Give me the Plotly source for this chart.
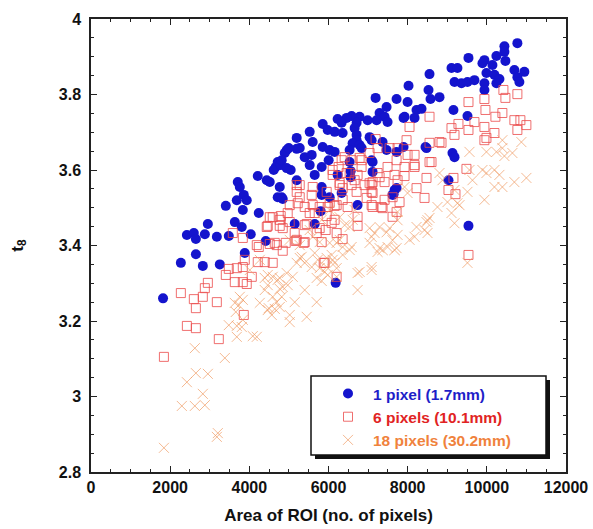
import plotly.graph_objects as go

# ---- data ----
blue_x = [1820, 2270, 2422, 2598, 2649, 2876, 3179, 3481, 2952, 3633, 3809, 4036, 3885, 4415, 5146, 5651, 6181,
          2650, 2825, 3254, 5197, 4944, 4894, 5197, 4717, 4667, 4616, 4793, 5045, 4213, 4440, 4516, 5197, 3708,
          3759, 3860, 3683, 3935, 3835, 3406, 4238, 4717, 4844, 4768, 8022, 7190, 7720, 7997, 8224, 7467, 7291,
          7417, 7215, 7492, 7896, 8174, 6988, 6786, 6584, 6458, 6710, 6231, 6332, 5853, 5979, 6155, 6357, 6660,
          6710, 6710, 6609, 6786, 7038, 7089, 6534, 6837, 7366, 7467, 7720, 7896, 5525, 5273, 5601, 5853, 6029,
          6155, 4995, 5399, 5575, 5525, 4818, 4944, 5651, 6004, 5828, 6534, 7114, 6559, 6231, 7114, 5828, 5828,
          6029, 6332, 7669, 7618, 6735, 4818, 10772, 10444, 10444, 10242, 9536, 9939, 9889, 10141, 10469, 9990,
          10192, 10318, 10242, 10696, 10948, 10772, 10822, 9107, 9258, 8552, 9183, 9359, 9511, 9687, 9939, 9939,
          8527, 8577, 8804, 8350, 7921, 9157, 9511, 9132, 9183, 8476, 9536, 9031, 8451, 7720, 7644, 5802, 7089,
          6559]
blue_y = [3.260, 3.354, 3.428, 3.433, 3.417, 3.430, 3.423, 3.425, 3.457, 3.462, 3.449, 3.430, 3.380, 3.412, 3.457,
          3.457, 3.301, 3.377, 3.346, 3.350, 3.685, 3.653, 3.645, 3.656, 3.621, 3.608, 3.600, 3.613, 3.600, 3.584,
          3.573, 3.568, 3.573, 3.568, 3.555, 3.534, 3.520, 3.520, 3.494, 3.505, 3.486, 3.528, 3.523, 3.555, 3.823,
          3.791, 3.788, 3.780, 3.759, 3.767, 3.751, 3.741, 3.732, 3.727, 3.738, 3.738, 3.732, 3.741, 3.743, 3.738,
          3.725, 3.735, 3.725, 3.722, 3.706, 3.701, 3.698, 3.711, 3.693, 3.679, 3.671, 3.666, 3.687, 3.679, 3.653,
          3.658, 3.674, 3.653, 3.648, 3.661, 3.701, 3.658, 3.674, 3.661, 3.653, 3.648, 3.658, 3.634, 3.640, 3.613,
          3.626, 3.605, 3.587, 3.626, 3.608, 3.621, 3.621, 3.581, 3.587, 3.595, 3.555, 3.534, 3.528, 3.539, 3.547,
          3.534, 3.507, 3.528, 3.936, 3.928, 3.913, 3.902, 3.897, 3.891, 3.883, 3.878, 3.889, 3.857, 3.852, 3.841,
          3.830, 3.865, 3.860, 3.846, 3.833, 3.870, 3.870, 3.854, 3.833, 3.830, 3.833, 3.838, 3.830, 3.812, 3.812,
          3.788, 3.793, 3.762, 3.741, 3.759, 3.743, 3.645, 3.634, 3.658, 3.452, 3.573, 3.661, 3.552, 3.536, 3.491,
          3.626, 3.597]

red_x = [1842, 2270, 2422, 2649, 2598, 2649, 2825, 2876, 2952, 3179, 3229, 3406, 3481, 3683, 3633, 3835, 3935,
         4062, 3835, 3885, 3860, 4213, 4390, 4591, 4238, 4516, 4692, 4844, 4919, 5172, 5373, 3835, 3582, 4465,
         4768, 5449, 5701, 5928, 5828, 5903, 6206, 4591, 4793, 4969, 5222, 5399, 5651, 5777, 5954, 6155, 5979,
         6155, 9536, 8855, 9939, 9485, 9157, 9031, 9208, 8476, 8224, 8426, 8174, 7921, 7921, 8552, 7997, 7720,
         7492, 7669, 7291, 7114, 7089, 7417, 7795, 7720, 7618, 6786, 7038, 6408, 6256, 6836, 6735, 6534, 6105,
         6281, 6660, 7038, 6710, 7114, 6206, 6483, 7417, 7341, 6735, 6735, 6206, 6357, 7972, 10419, 10469, 10772,
         9536, 9939, 9965, 10393, 10217, 10696, 10848, 10999, 10772, 9687, 9283, 9107, 9536, 9183, 9939, 9990,
         10192, 8552, 8047, 8552, 8804, 8174, 8174, 8602, 7190, 7240, 7543, 7745, 6837, 6584, 6332, 6105, 6458,
         6282, 6584, 6912, 5601, 5273, 5020, 5273, 5576, 5954, 6030, 6358, 6964, 7115, 5601, 4516, 4768, 4440,
         4844, 5020, 5146, 5197, 4642, 4188, 5197, 5197, 5399, 5399, 5879, 6080, 7366, 7089, 5777, 5525, 7619,
         7745, 7240, 7089, 6357]
red_y = [3.105, 3.274, 3.187, 3.181, 3.258, 3.234, 3.264, 3.287, 3.301, 3.250, 3.152, 3.322, 3.338, 3.340, 3.303,
         3.303, 3.298, 3.317, 3.343, 3.362, 3.216, 3.356, 3.356, 3.354, 3.396, 3.404, 3.401, 3.386, 3.407, 3.412,
         3.407, 3.420, 3.433, 3.452, 3.452, 3.457, 3.433, 3.441, 3.409, 3.354, 3.317, 3.475, 3.478, 3.486, 3.512,
         3.502, 3.486, 3.446, 3.478, 3.505, 3.502, 3.468, 3.375, 3.672, 3.679, 3.603, 3.579, 3.547, 3.536, 3.579,
         3.552, 3.526, 3.608, 3.584, 3.608, 3.621, 3.640, 3.626, 3.608, 3.587, 3.581, 3.568, 3.542, 3.568, 3.515,
         3.489, 3.476, 3.632, 3.645, 3.634, 3.608, 3.608, 3.587, 3.592, 3.587, 3.560, 3.573, 3.565, 3.542, 3.539,
         3.507, 3.502, 3.521, 3.502, 3.476, 3.452, 3.433, 3.417, 3.679, 3.812, 3.791, 3.801, 3.780, 3.788, 3.759,
         3.751, 3.741, 3.732, 3.732, 3.719, 3.706, 3.727, 3.722, 3.711, 3.706, 3.693, 3.714, 3.685, 3.698, 3.741,
         3.714, 3.672, 3.674, 3.640, 3.613, 3.621, 3.682, 3.658, 3.658, 3.658, 3.626, 3.626, 3.626, 3.600, 3.592,
         3.566, 3.560, 3.560, 3.555, 3.560, 3.507, 3.528, 3.534, 3.542, 3.513, 3.521, 3.526, 3.502, 3.507, 3.475,
         3.468, 3.449, 3.446, 3.462, 3.433, 3.415, 3.407, 3.401, 3.560, 3.542, 3.454, 3.409, 3.354, 3.460, 3.499,
         3.507, 3.502, 3.486, 3.528, 3.573, 3.592, 3.560, 3.552]

orange_x = [1842, 2295, 2623, 2876, 2825, 2422, 2649, 2952, 2623, 3381, 3204, 3179, 3683, 3481, 3683, 3809, 3835,
            3658, 3734, 3835, 3759, 3633, 4087, 4188, 4264, 4390, 4566, 4490, 4642, 4692, 4818, 5020, 5020, 5146,
            5399, 5449, 5701, 4465, 4591, 4768, 4944, 5096, 5273, 5576, 5727, 5903, 5828, 4844, 4390, 4465, 4717,
            4768, 4591, 4970, 4768, 4465, 5197, 5399, 5323, 5651, 5777, 5979, 6206, 6206, 6029, 5777, 5601, 5954,
            6105, 5701, 5954, 6206, 6080, 6357, 6584, 6357, 6735, 6735, 7089, 7038, 7240, 7366, 7492, 7669, 7618,
            7467, 7164, 7291, 7038, 7745, 8174, 8426, 8476, 8224, 9183, 9107, 9309, 9510, 6534, 6610, 6282, 6029,
            10393, 10873, 10646, 10444, 9990, 9889, 10192, 10192, 10393, 10696, 10999, 9939, 9637, 9510, 9258,
            8552, 8804, 8880, 9006, 7921, 7997, 7745, 7745, 7543, 7291, 7089, 7089, 6786, 6534, 6282, 6155, 8047,
            10393, 10242, 9561, 9561, 9990, 10318, 9183, 8753, 8501, 8501, 7719, 5525, 6408, 6660, 5020, 5273,
            4264, 4011, 5828]
orange_y = [2.864, 2.975, 2.975, 2.977, 3.007, 3.038, 3.062, 3.060, 3.128, 3.102, 2.903, 2.893, 3.158, 3.189, 3.187,
            3.184, 3.203, 3.224, 3.242, 3.256, 3.264, 3.248, 3.160, 3.158, 3.248, 3.282, 3.216, 3.234, 3.232, 3.250,
            3.264, 3.197, 3.216, 3.250, 3.282, 3.211, 3.250, 3.322, 3.317, 3.314, 3.327, 3.317, 3.367, 3.343, 3.362,
            3.330, 3.306, 3.290, 3.314, 3.295, 3.309, 3.285, 3.264, 3.295, 3.237, 3.229, 3.354, 3.354, 3.370, 3.380,
            3.340, 3.322, 3.317, 3.407, 3.407, 3.409, 3.423, 3.367, 3.362, 3.314, 3.343, 3.340, 3.375, 3.375, 3.396,
            3.396, 3.327, 3.282, 3.335, 3.407, 3.383, 3.388, 3.396, 3.388, 3.414, 3.435, 3.433, 3.449, 3.446, 3.428,
            3.423, 3.441, 3.462, 3.449, 3.459, 3.486, 3.507, 3.354, 3.449, 3.468, 3.475, 3.494, 3.679, 3.674, 3.645,
            3.637, 3.648, 3.600, 3.600, 3.555, 3.555, 3.568, 3.579, 3.521, 3.573, 3.542, 3.512, 3.473, 3.592, 3.573,
            3.515, 3.555, 3.539, 3.489, 3.467, 3.446, 3.393, 3.423, 3.343, 3.330, 3.388, 3.415, 3.354, 3.415, 3.658,
            3.648, 3.648, 3.600, 3.592, 3.587, 3.547, 3.502, 3.467, 3.433, 3.393, 3.441, 3.454, 3.494, 3.415, 3.401,
            3.362, 3.335, 3.468]

series_names = ["1 pixel (1.7mm)", "6 pixels (10.1mm)", "18 pixels (30.2mm)"]
series_colors = ["rgb(20,20,205)", "rgb(235,75,75)", "rgb(240,155,100)"]
legend_text_colors = ["rgb(30,30,200)", "rgb(225,35,35)", "rgb(240,130,60)"]

FONT = "Liberation Sans, Arial, sans-serif"

fig = go.Figure()
fig.add_trace(go.Scatter(
    x=blue_x, y=blue_y, mode="markers",
    name=f"<b><span style='color:{legend_text_colors[0]}'>{series_names[0]}</span></b>",
    marker=dict(symbol="circle", size=10, color=series_colors[0], line=dict(width=0)),
))
fig.add_trace(go.Scatter(
    x=red_x, y=red_y, mode="markers",
    name=f"<b><span style='color:{legend_text_colors[1]}'>{series_names[1]}</span></b>",
    marker=dict(symbol="square-open", size=9, color=series_colors[1], opacity=0.8,
                line=dict(width=1, color=series_colors[1])),
))
fig.add_trace(go.Scatter(
    x=orange_x, y=orange_y, mode="markers",
    name=f"<b><span style='color:{legend_text_colors[2]}'>{series_names[2]}</span></b>",
    marker=dict(symbol="x-thin-open", size=10, color=series_colors[2], opacity=0.7,
                line=dict(width=1, color=series_colors[2])),
))

L, R, T, B = 91, 27, 19, 57
W, H = 593, 529
pw, ph = W - L - R, H - T - B

def px2paper_x(p):
    return (p - L) / pw

def py2paper_y(p):
    return (H - B - p) / ph

axis_common = dict(
    showline=True, linecolor="#222", linewidth=1.5, mirror="allticks",
    ticks="inside", ticklen=6, tickwidth=1.2, tickcolor="#222",
    showgrid=False, zeroline=False,
    tickfont=dict(family=FONT, size=16, color="#111", weight="bold"),
)

fig.update_xaxes(
    range=[0, 12000], dtick=2000, tickformat="d",
    minor=dict(dtick=500, ticks="inside", ticklen=3, tickwidth=1, tickcolor="#222", showgrid=False),
    title=dict(text="<b>Area of ROI (no. of pixels)</b>", font=dict(family=FONT, size=17, color="#111"), standoff=14),
    **axis_common,
)
fig.update_yaxes(
    range=[2.8, 4.0], dtick=0.2,
    minor=dict(dtick=0.05, ticks="inside", ticklen=3, tickwidth=1, tickcolor="#222", showgrid=False),
    ticklabelstandoff=5,
    title=dict(text="<b>t<sub>8</sub></b>", font=dict(family=FONT, size=17, color="#111"), standoff=31),
    **axis_common,
)

# legend frame with drop shadow
bx0, bx1, by0, by1 = 311, 546, 376, 455
fig.add_shape(type="rect", xref="paper", yref="paper",
              x0=px2paper_x(bx0 + 4), x1=px2paper_x(bx1 + 4),
              y0=py2paper_y(by1 + 4), y1=py2paper_y(by0 + 4),
              fillcolor="#111", line=dict(width=0), layer="above")
fig.add_shape(type="rect", xref="paper", yref="paper",
              x0=px2paper_x(bx0), x1=px2paper_x(bx1),
              y0=py2paper_y(by1), y1=py2paper_y(by0),
              fillcolor="white", line=dict(width=1.5, color="#111"), layer="above")

fig.update_layout(
    width=W, height=H,
    margin=dict(l=L, r=R, t=T, b=B, autoexpand=False),
    paper_bgcolor="white", plot_bgcolor="white",
    font=dict(family=FONT, size=14, color="#111"),
    showlegend=True,
    legend=dict(
        x=px2paper_x(323), y=py2paper_y(377), xanchor="left", yanchor="top",
        bgcolor="rgba(0,0,0,0)", borderwidth=0,
        font=dict(family=FONT, size=15.5),
        itemwidth=40, itemsizing="trace", tracegroupgap=0,
    ),
)

fig.write_html("out.html")
